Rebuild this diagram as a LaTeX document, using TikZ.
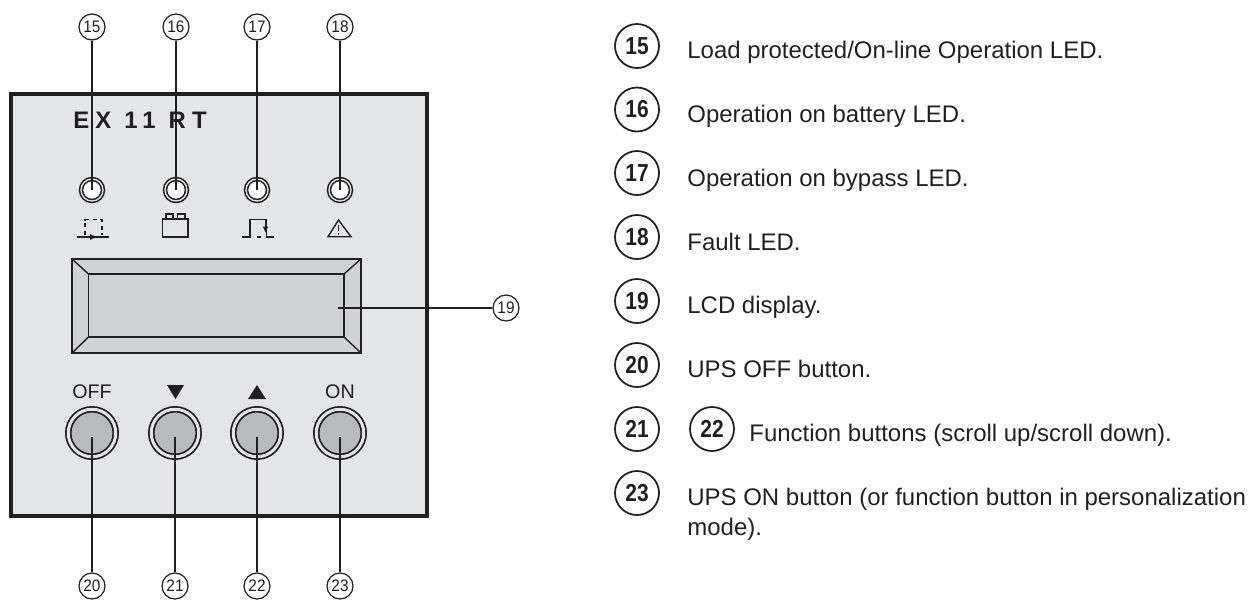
\documentclass[tikz,border=0pt]{standalone}
\usepackage{fontspec}
\setmainfont{Liberation Sans}
\newfontfamily\tagfont[FakeStretch=0.92]{Liberation Sans}
\newfontfamily\keyfont[FakeStretch=0.85]{Liberation Sans}
\newfontfamily\modelfont[LetterSpace=26]{Liberation Sans}
\usetikzlibrary{arrows}
\usetikzlibrary{arrows.meta}
\definecolor{ink}{HTML}{231F20}
\definecolor{panelgray}{HTML}{E4E5E7}
\definecolor{lcdgray}{HTML}{D1D2D4}
\definecolor{btngray}{HTML}{B9BABC}
\begin{document}
\begin{tikzpicture}[x=0.02cm,y=-0.02cm,ink]
\tikzstyle{tag} = [draw=ink,fill=white,circle,line width=0.7pt,minimum size=0.52cm,inner sep=0pt,font=\tagfont\fontsize{9.5}{10}\selectfont]
\tikzstyle{bigtag} = [draw=ink,circle,line width=1pt,minimum size=0.88cm,inner sep=0pt,font=\keyfont\bfseries\fontsize{14}{15}\selectfont]
\tikzstyle{led} = [draw=ink,fill=white,circle,double=panelgray,line width=0.9pt,double distance=0.027cm,minimum size=0.44cm,inner sep=0pt]
\tikzstyle{btn} = [draw=ink,fill=btngray,circle,double=panelgray,line width=1pt,double distance=0.06cm,minimum size=0.95cm,inner sep=0pt]
\tikzstyle{keycap} = [font=\fontsize{11.2}{12}\selectfont]
\tikzstyle{item} = [anchor=base west,inner sep=0pt,align=left,font=\fontsize{13.65}{16.7}\selectfont]
\tikzstyle{wire} = [draw=ink,line width=0.8pt]
\tikzstyle{sym} = [draw=ink,line width=0.8pt]

\useasboundingbox (0,0) rectangle (1254,599);

% front panel
\draw[draw=ink,fill=panelgray,line width=0.85mm] (11,94) rectangle (427,516);
\node[anchor=base west,inner sep=0pt,font=\modelfont\bfseries\fontsize{13.6}{14}\selectfont] (model) at (73,128) {EX 11 RT};

% lcd
\draw[sym,fill=lcdgray] (72,259) rectangle (361,353);
\draw[sym] (88.5,274) rectangle (344,337);
\draw[sym] (72,259) -- (88.5,274) (361,259) -- (344,274) (72,353) -- (88.5,337) (361,353) -- (344,337);

% leds and their tags
\foreach \n/\x in {15/92, 16/176, 17/257, 18/340} {
\node[led] (led\n) at (\x,190) {};
\node[tag] (tag\n) at (\x,27) {\n};
\draw[wire] (tag\n) -- (led\n.center);
}

% buttons and their tags
\foreach \n/\x/\txt in {20/92/OFF, 21/175/, 22/257/, 23/340/ON} {
\node[btn] (btn\n) at (\x,433) {};
\node[keycap] (keycap\n) at (\x,392) {\txt};
\node[tag] (tag\n) at (\x,586) {\n};
\draw[wire] (tag\n) -- ([yshift=-0.08cm]btn\n.center);
}
\fill (167,385) -- (184,385) -- (175.5,399) -- cycle;
\fill (248,399) -- (266,399) -- (257,385) -- cycle;

% lcd tag
\node[tag] (tag19) at (506,308) {19};
\coordinate (lcdtip) at (338,308);
\draw[wire] (tag19) -- (lcdtip);

% led symbols
\draw[sym,line width=1pt] (77,237) -- (109,237);
\draw[sym,-{Latex[length=1.6mm,width=1.2mm]}] (85,237) -- (98,237);
\draw[sym,dash pattern=on 2.4pt off 2pt] (85,235) -- (85,219.5) -- (102,219.5) -- (102,235);
\draw[sym] (162.5,219) rectangle (188,237);
\draw[sym] (166,219) -- (166,214) -- (173,214) -- (173,219) (177.5,219) -- (177.5,214) -- (185,214) -- (185,219);
\draw[sym,line width=1pt] (242,237) -- (250,237) -- (250,219.5) -- (266.5,219.5) -- (266.5,237) -- (274,237);
\draw[sym,line width=1pt] (257,237) -- (261,237);
\draw[sym,-{Latex[length=1.3mm,width=1.2mm]}] (265.5,220) -- (265.5,233);
\draw[sym] (338.5,220) -- (328,236.7) -- (351,236.7) -- cycle;
\draw[sym] (338.5,225) -- (338.5,231) (338.5,233) -- (338.5,235);

% legend
\node[bigtag] (big15) at (637,46) {15};
\node[item] (txt15) at (687,58) {Load protected/On-line Operation LED.};
\foreach \n/\y/\ty/\txt in {16/109.5/122/Operation on battery LED., 17/173/186/Operation on bypass LED., 18/237/250/Fault LED., 19/301/313.5/LCD display., 20/365/377.7/UPS OFF button.} {
\node[bigtag] (big\n) at (637,\y) {\n};
\node[item] (txt\n) at (687,\ty) {\txt};
}
\node[bigtag] (big21) at (637,429) {21};
\node[bigtag] (big22) at (712,429) {22};
\node[item] (txt22) at (749,441.7) {Function buttons (scroll up/scroll down).};
\node[bigtag] (big23) at (637,493) {23};
\node[item] (txt23) at (687,535) {UPS ON button (or function button in personalization\\mode).};

\end{tikzpicture}
\end{document}
